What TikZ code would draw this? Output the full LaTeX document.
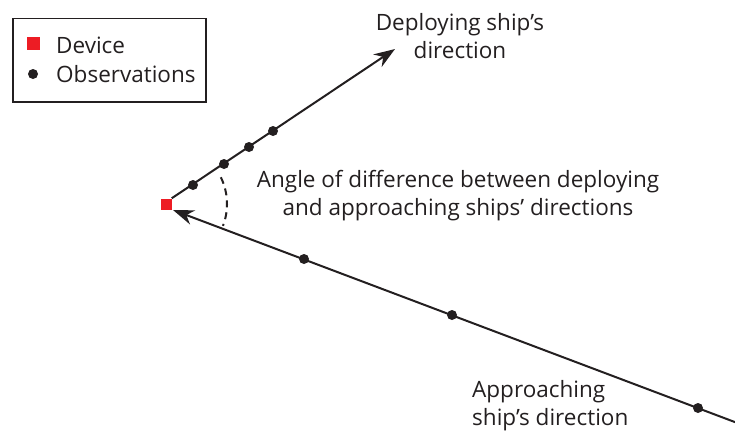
\documentclass[tikz,border=0pt]{standalone}
\usepackage{fontspec}
\setmainfont{Open Sans}
\usetikzlibrary{arrows.meta,calc}
\definecolor{ink}{HTML}{231F20}
\definecolor{devred}{HTML}{ED1C24}
\begin{document}
\begin{tikzpicture}[x=1pt,y=-1pt,
  track/.style={draw=ink,line width=2pt},
  tip/.style={-{Stealth[length=21pt,width=15pt]}},
  obs/.style={circle,fill=ink,inner sep=0pt,minimum size=10pt},
  dev/.style={rectangle,fill=devred,inner sep=0pt,minimum size=11pt},
  lbl/.style={text=ink,font=\fontsize{22.5}{28}\selectfont,align=center,inner sep=0pt}]
\useasboundingbox (0,0) rectangle (735,436);
% legend
\node[draw=ink,line width=1.5pt,minimum width=193pt,minimum height=83pt,anchor=north west] (legend) at (12,18) {};
\node[dev,minimum size=13pt] (ldev) at (33,44) {};
\node[obs] (lobs) at (33,74) {};
\node[lbl,anchor=west] (tdev) at (56,45) {Device};
\node[lbl,anchor=west] (tobs) at (56,74) {Observations};
% device and track ends
\node[dev] (device) at (166,204) {};
\coordinate (deptip) at (395,49);
\coordinate (apptip) at (173,210);
\coordinate (appfar) at (740,424);
% deploying ship track
\draw[track,tip] (device.north east) -- (deptip);
% approaching ship track
\draw[track,tip] (appfar) -- (apptip);
% observations
\node[obs] (o1) at (193,185) {};
\node[obs] (o2) at (224,164) {};
\node[obs] (o3) at (249,147) {};
\node[obs] (o4) at (273,131) {};
\node[obs] (o5) at (304,259) {};
\node[obs] (o6) at (452,315) {};
\node[obs] (o7) at (698,408) {};
% angle between the tracks
\draw[ink,line width=2pt,dash pattern=on 7pt off 5pt] ($(device)+(-26:61)$) arc[start angle=-26,end angle=21,radius=61];
% labels
\node[lbl] (ldep) at (460,36) {Deploying ship’s\\direction};
\node[lbl] (lang) at (458,196) {Angle of difference between deploying\\and approaching ships’ directions};
\node[lbl,align=left,anchor=west] (lapp) at (472,406) {Approaching\\ship’s direction};
\end{tikzpicture}
\end{document}
